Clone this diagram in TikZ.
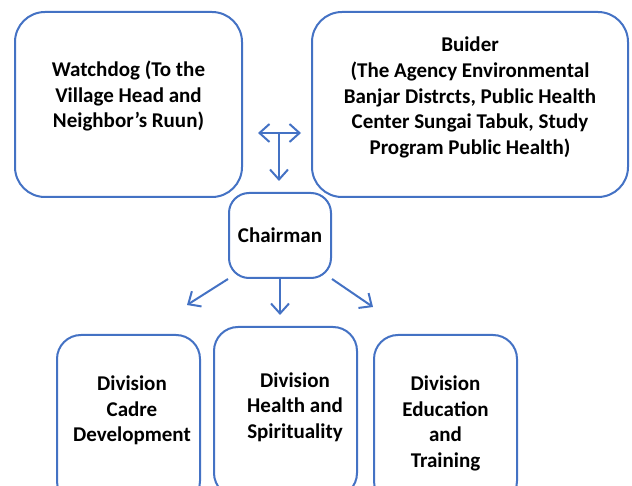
\documentclass[tikz,border=0pt]{standalone}
\usepackage{fontspec}
\setmainfont{Carlito}
\usepackage{xcolor}
\usetikzlibrary{arrows.meta, shapes}
\definecolor{boxblue}{HTML}{4472C4}
\tikzstyle{box} = [rectangle, text centered, draw=boxblue, line width=1pt, font=\fontsize{10.5}{12.8}\selectfont\bfseries]
\tikzstyle{topbox} = [box, rounded corners=15pt, minimum height=92.5pt]
\tikzstyle{headbox} = [box, rounded corners=10pt, minimum width=51pt, minimum height=42.5pt]
\tikzstyle{divbox} = [box, rounded corners=12pt, inner xsep=1pt, minimum width=71.5pt, minimum height=85pt]
\tikzstyle{arrow} = [draw=boxblue, line width=1pt, ->, >={Straight Barb[length=5pt, width=9pt]}]

\begin{document}
\begin{tikzpicture}[x=0.5pt, y=0.5pt, yscale=-1]

\useasboundingbox (0, 0) rectangle (632, 486);
\clip (0, 0) rectangle (632, 486);

\node at (128.5, 104.5) (watchdog) [topbox, minimum width=113.5pt] {\begin{tabular}{c} Watchdog (To the \\ Village Head and \\ Neighbor's Ruun) \\[7.5pt] \end{tabular}};
\node at (470, 104.5) (builder) [topbox, minimum width=158pt] {\begin{tabular}{c} Buider \\ (The Agency Environmental \\ Banjar Distrcts, Public Health \\ Center Sungai Tabuk, Study \\ Program Public Health) \\[6.5pt] \end{tabular}};
\node at (280, 235.5) (chairman) [headbox] {Chairman};

\node at (128.5, 420) (cadre) [divbox] {\begin{tabular}{@{\hspace{3.5pt}}c@{}} Division \\ Cadre \\ Development \\[9pt] \end{tabular}};
\node at (285.5, 412) (health) [divbox] {\begin{tabular}{@{\hspace{9.5pt}}c@{}} Division \\ Health and \\ Spirituality \\[4.5pt] \end{tabular}};
\node at (445.5, 420) (education) [divbox] {\begin{tabular}{c} \rule{0pt}{13pt}Division \\ Education \\ and \\ Training \end{tabular}};

% arrows between the top boxes
\coordinate (hub) at (279, 133);
\draw[arrow, <->, shorten <=7.5pt, shorten >=5pt] (watchdog.east |- hub) -- (builder.west |- hub);
\draw[arrow, shorten >=5.5pt] (hub) -- (chairman.north -| hub);

% arrows to the divisions
\coordinate (tocadre) at (187, 305);
\coordinate (tohealth) at (280, 315);
\coordinate (toeducation) at (373, 307);
\draw[arrow] (chairman.south west) -- (tocadre);
\draw[arrow] (chairman.south) -- (tohealth);
\draw[arrow] (chairman.south east) -- (toeducation);

\end{tikzpicture}
\end{document}
